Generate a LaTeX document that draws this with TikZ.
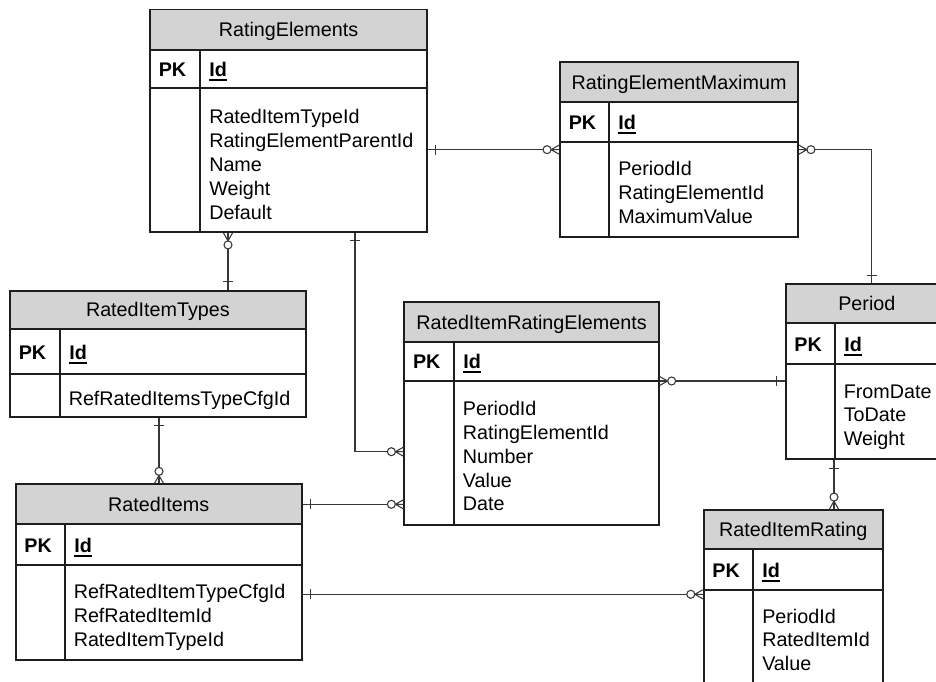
\documentclass[tikz,border=0pt]{standalone}
\usepackage{fontspec}
\setmainfont{Liberation Sans}
\usetikzlibrary{fit}

\definecolor{hdrgray}{RGB}{211,211,211}
\definecolor{linec}{RGB}{30,30,30}
\definecolor{connc}{RGB}{55,55,55}

\newcommand\tfont{\fontsize{14.8}{17.8}\selectfont}
% bold, thickly underlined key name
\newcommand\keyid{\setbox0\hbox{\bfseries Id}\rlap{\rule[-3.4pt]{\wd0}{1.5pt}}\box0}

\tikzset{
  hdrfill/.style={fill=hdrgray},
  rowline/.style={draw=linec, line width=1.4pt},
  tblbox/.style={draw=linec, line width=1.4pt, inner sep=0pt},
  tabtitle/.style={anchor=base, inner sep=0pt, font=\tfont},
  pkcell/.style={anchor=base west, inner sep=0pt, font=\tfont\bfseries},
  field/.style={anchor=base west, inner sep=0pt, font=\tfont},
  conn/.style={draw=connc, line width=0.8pt},
}

% table: name, left, top, right, bottom, header bottom, key row bottom, divider x, title
\newcommand\ertab[9]{%
  \fill[hdrfill] (#2,#3) rectangle (#4,#6);
  \draw[rowline] (#2,#6) -- (#4,#6) (#2,#7) -- (#4,#7) (#8,#6) -- (#8,#5);
  \node[tblbox, fit={(#2,#3)(#4,#5)}] (#1) {};
  \node[tabtitle] (#1-title) at ({(#2+#4)/2},{(#3+#6)/2+7}) {#9};
  \node[pkcell] (#1-pk) at ({#2+8.5},{(#6+#7)/2+7.5}) {PK};
  \node[pkcell] (#1-id) at ({#8+9},{(#6+#7)/2+7.5}) {\keyid};
}
% field list: table name, x, first baseline, fields
\newcommand\erbody[4]{%
  \foreach \t [count=\i from 0] in {#4}
    \node[field] (#1-f\i) at (#2,{#3+\i*23.9}) {\t};
}
% relationship ends; angle gives the direction of the line leaving the box
\newcommand\onemark[2]{%
  \begin{scope}[shift={(#1)},rotate=#2]
    \draw[conn] (8,-5) -- (8,5);
  \end{scope}}
\newcommand\manymark[2]{%
  \begin{scope}[shift={(#1)},rotate=#2]
    \draw[conn] (0,-4.5) -- (8,0) -- (0,4.5) (0,0) -- (8,0);
    \draw[conn, fill=white] (12,0) circle[radius=4];
  \end{scope}}

\begin{document}
\begin{tikzpicture}[x=0.75pt,y=-0.75pt]
\useasboundingbox (0,0) rectangle (936,682);
\clip (0,0) rectangle (936,682);
\fill[white] (0,0) rectangle (936,682);

% tables
\ertab{re}{150}{9.5}{427}{232}{50}{88}{200}{RatingElements}
\erbody{re}{209}{123.7}{RatedItemTypeId,RatingElementParentId,Name,Weight,Default}
\ertab{rem}{560}{62.3}{798}{237}{101.7}{142}{609}{RatingElementMaximum}
\erbody{rem}{618}{175.3}{PeriodId,RatingElementId,MaximumValue}
\ertab{rit}{10}{290.7}{305.7}{417}{329}{374}{60}{RatedItemTypes}
\erbody{rit}{68.5}{405}{RefRatedItemsTypeCfgId}
\ertab{rire}{404.3}{302.3}{658.7}{525}{341.7}{381}{454}{RatedItemRatingElements}
\erbody{rire}{462.7}{415.3}{PeriodId,RatingElementId,Number,Value,Date}
\ertab{per}{785.7}{284}{948}{459.3}{323.3}{364.3}{835}{Period}
\erbody{per}{843.5}{398}{FromDate,ToDate,Weight}
\ertab{ri}{15.7}{484.3}{301.7}{660}{524}{565}{65}{RatedItems}
\erbody{ri}{73.5}{598.7}{RefRatedItemTypeCfgId,RefRatedItemId,RatedItemTypeId}
\ertab{rir}{703.7}{510}{882.7}{700}{549.3}{590}{753}{RatedItemRating}
\erbody{rir}{762}{623}{PeriodId,RatedItemId,Value}

% connector ends
\coordinate (a1) at (re.east |- rem.west);
\coordinate (a2) at (rem.west);
\coordinate (b1) at (re.south -| 228,0);
\coordinate (b2) at (rit.north -| 228,0);
\coordinate (c1) at (re.south -| 355,0);
\coordinate (c2) at (rire.west |- 0,451.7);
\coordinate (d1) at (rit.south -| 159,0);
\coordinate (d2) at (ri.north -| 159,0);
\coordinate (e1) at (ri.east |- 0,504.3);
\coordinate (e2) at (rire.west |- e1);
\coordinate (f1) at (ri.east |- 0,594.3);
\coordinate (f2) at (rir.west |- f1);
\coordinate (g1) at (rem.east);
\coordinate (g2) at (per.north -| 871.7,0);
\coordinate (h1) at (rire.east |- 0,381);
\coordinate (h2) at (per.west |- h1);
\coordinate (i1) at (per.south -| 834,0);
\coordinate (i2) at (rir.north -| i1);

% connectors
\draw[conn] (a1) -- (a2);
\draw[conn] (b1) -- (b2);
\draw[conn] (c1) |- (c2);
\draw[conn] (d1) -- (d2);
\draw[conn] (e1) -- (e2);
\draw[conn] (f1) -- (f2);
\draw[conn] (g1) -| (g2);
\draw[conn] (h1) -- (h2);
\draw[conn] (i1) -- (i2);

% cardinality marks
\onemark{a1}{0}    \manymark{a2}{180}
\manymark{b1}{-90} \onemark{b2}{90}
\onemark{c1}{-90}  \manymark{c2}{180}
\onemark{d1}{-90}  \manymark{d2}{90}
\onemark{e1}{0}    \manymark{e2}{180}
\onemark{f1}{0}    \manymark{f2}{180}
\manymark{g1}{0}   \onemark{g2}{90}
\manymark{h1}{0}   \onemark{h2}{180}
\onemark{i1}{-90}  \manymark{i2}{90}
\end{tikzpicture}
\end{document}
